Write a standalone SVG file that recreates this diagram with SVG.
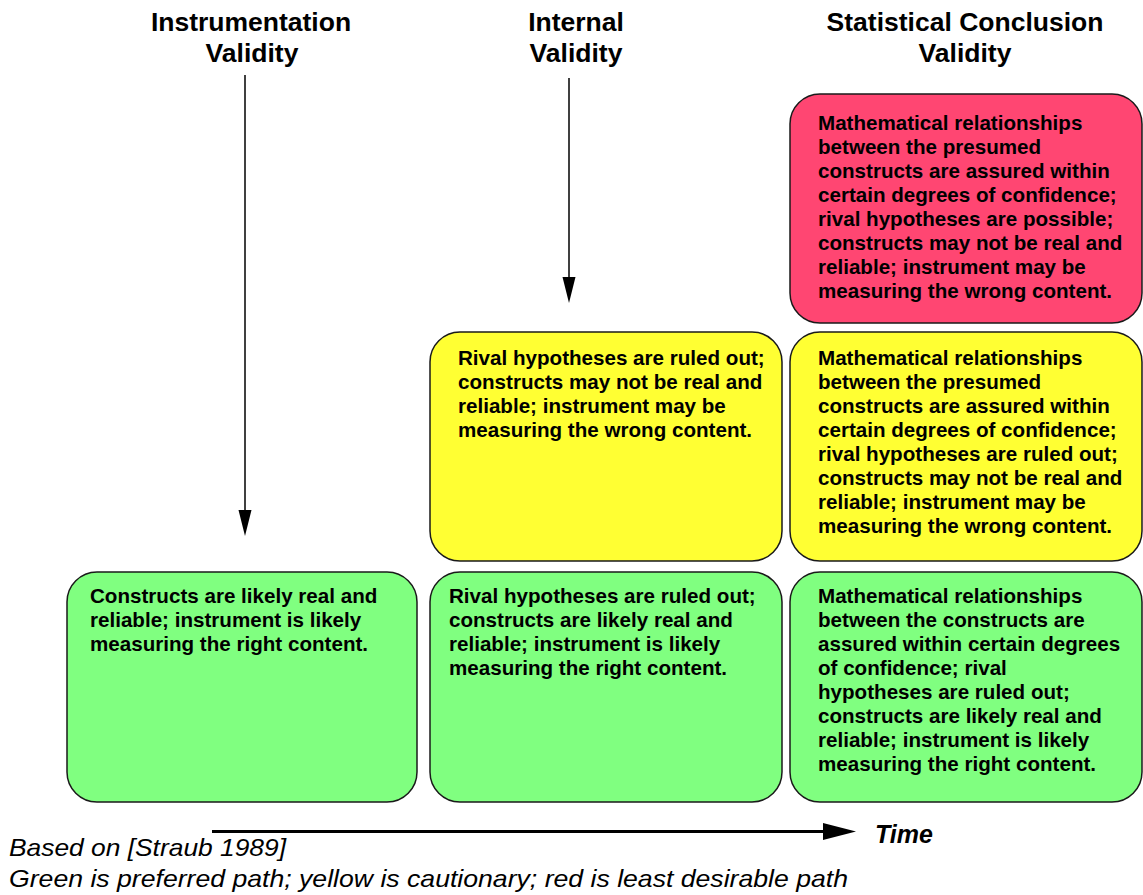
<svg xmlns="http://www.w3.org/2000/svg" width="1143" height="895" viewBox="0 0 1143 895">
<style>
.box{stroke:#1a1a1a;stroke-width:1.5}
.g{fill:#80FF80}
.y{fill:#FFFF33}
.r{fill:#FF4672}
.t{font-family:"Liberation Sans",Arial,sans-serif;font-weight:bold;font-size:20.6px;fill:#000}
.h{font-family:"Liberation Sans",Arial,sans-serif;font-weight:bold;font-size:26.5px;fill:#000;text-anchor:middle}
.f{font-family:"Liberation Sans",Arial,sans-serif;font-style:italic;font-size:24px;fill:#000}
.conn{stroke:#000;fill:none}
</style>
<defs>
<marker id="ah" markerUnits="userSpaceOnUse" markerWidth="14" markerHeight="27" refX="6.5" refY="26" orient="auto-start-reverse" viewBox="0 0 13 27">
<path d="M0,0 L13,0 L6.5,26 Z" fill="#000"/>
</marker>
</defs>
<rect width="1143" height="895" fill="#fff"/>
<g id="titles">
<text class="h" x="251" y="31">Instrumentation</text>
<text class="h" x="252" y="62">Validity</text>
<text class="h" x="576" y="31">Internal</text>
<text class="h" x="576" y="62">Validity</text>
<text class="h" x="965" y="31">Statistical Conclusion</text>
<text class="h" x="965" y="62">Validity</text>
</g>
<g id="connectors">
<line class="conn" x1="245" y1="75" x2="245" y2="512" stroke-width="1.5"/>
<path d="M238.5,510 L251.5,510 L245,536 Z" fill="#000"/>
<line class="conn" x1="569" y1="78" x2="569" y2="279" stroke-width="1.5"/>
<path d="M562.5,277 L575.5,277 L569,303 Z" fill="#000"/>
<line class="conn" x1="212" y1="831.5" x2="826" y2="831.5" stroke-width="3"/>
<path d="M823,823 L856,831.5 L823,840 Z" fill="#000"/>
</g>
<g id="node-red">
<rect class="box r" x="790" y="94" width="352" height="229" rx="30" ry="30"/>
<text class="t" x="818" y="130">Mathematical relationships</text>
<text class="t" x="818" y="154">between the presumed</text>
<text class="t" x="818" y="178">constructs are assured within</text>
<text class="t" x="818" y="202">certain degrees of confidence;</text>
<text class="t" x="818" y="226">rival hypotheses are possible;</text>
<text class="t" x="818" y="250">constructs may not be real and</text>
<text class="t" x="818" y="274">reliable; instrument may be</text>
<text class="t" x="818" y="298">measuring the wrong content.</text>
</g>
<g id="node-yellow-internal">
<rect class="box y" x="430" y="332" width="352" height="229" rx="30" ry="30"/>
<text class="t" x="458" y="365">Rival hypotheses are ruled out;</text>
<text class="t" x="458" y="389">constructs may not be real and</text>
<text class="t" x="458" y="413">reliable; instrument may be</text>
<text class="t" x="458" y="437">measuring the wrong content.</text>
</g>
<g id="node-yellow-statistical">
<rect class="box y" x="790" y="332" width="352" height="229" rx="30" ry="30"/>
<text class="t" x="818" y="365">Mathematical relationships</text>
<text class="t" x="818" y="389">between the presumed</text>
<text class="t" x="818" y="413">constructs are assured within</text>
<text class="t" x="818" y="437">certain degrees of confidence;</text>
<text class="t" x="818" y="461">rival hypotheses are ruled out;</text>
<text class="t" x="818" y="485">constructs may not be real and</text>
<text class="t" x="818" y="509">reliable; instrument may be</text>
<text class="t" x="818" y="533">measuring the wrong content.</text>
</g>
<g id="node-green-instrumentation">
<rect class="box g" x="67" y="572" width="350" height="230" rx="30" ry="30"/>
<text class="t" x="90" y="603">Constructs are likely real and</text>
<text class="t" x="90" y="627">reliable; instrument is likely</text>
<text class="t" x="90" y="651">measuring the right content.</text>
</g>
<g id="node-green-internal">
<rect class="box g" x="430" y="572" width="352" height="230" rx="30" ry="30"/>
<text class="t" x="449" y="603">Rival hypotheses are ruled out;</text>
<text class="t" x="449" y="627">constructs are likely real and</text>
<text class="t" x="449" y="651">reliable; instrument is likely</text>
<text class="t" x="449" y="675">measuring the right content.</text>
</g>
<g id="node-green-statistical">
<rect class="box g" x="790" y="572" width="352" height="230" rx="30" ry="30"/>
<text class="t" x="818" y="603">Mathematical relationships</text>
<text class="t" x="818" y="627">between the constructs are</text>
<text class="t" x="818" y="651">assured within certain degrees</text>
<text class="t" x="818" y="675">of confidence; rival</text>
<text class="t" x="818" y="699">hypotheses are ruled out;</text>
<text class="t" x="818" y="723">constructs are likely real and</text>
<text class="t" x="818" y="747">reliable; instrument is likely</text>
<text class="t" x="818" y="771">measuring the right content.</text>
</g>
<g id="labels">
<text x="875" y="843" font-family="Liberation Sans, Arial, sans-serif" font-weight="bold" font-style="italic" font-size="25" fill="#000">Time</text>
<text class="f" x="9" y="856" textLength="277" lengthAdjust="spacingAndGlyphs">Based on [Straub 1989]</text>
<text class="f" x="9" y="887" textLength="839" lengthAdjust="spacingAndGlyphs">Green is preferred path; yellow is cautionary; red is least desirable path</text>
</g>
</svg>
